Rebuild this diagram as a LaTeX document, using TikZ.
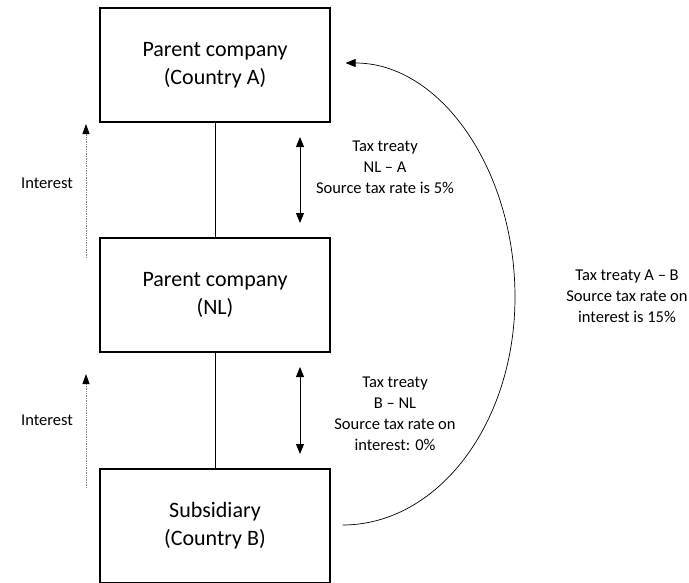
\documentclass[tikz,border=0pt]{standalone}
\usepackage{fontspec}
\setmainfont{Carlito}
\usetikzlibrary{arrows.meta}
\begin{document}
\begin{tikzpicture}[x=1pt,y=-1pt,
  entity/.style={draw=black,line width=1.2pt,minimum width=230pt,minimum height=114pt,
    align=center,inner sep=0pt,font=\fontsize{22}{28}\selectfont},
  note/.style={align=center,inner sep=0pt,font=\fontsize{16.5}{21}\selectfont},
  link/.style={line width=0.8pt},
  treaty/.style={line width=0.9pt,{Triangle[length=10pt,width=8pt]}-{Triangle[length=10pt,width=8pt]}},
  flow/.style={line width=0.9pt,gray,dash pattern=on 1.4pt off 1pt,
    -{Triangle[length=10pt,width=7pt,color=black]}},
  bypass/.style={line width=0.7pt,-{Triangle[length=10pt,width=8pt]}}]
\useasboundingbox (0,0) rectangle (689,582);

% entities
\node[entity] (pa)  at (215,65)  {Parent company\\(Country A)};
\node[entity] (nl)  at (215,295) {Parent company\\(NL)};
\node[entity] (sub) at (215,526) {Subsidiary\\(Country B)};

% ownership links
\draw[link] (pa.south) -- (nl.north);
\draw[link] (nl.south) -- (sub.north);

% treaty arrows
\coordinate (t1a) at (300,137);
\coordinate (t1b) at (300,223);
\coordinate (t2a) at (300,367);
\coordinate (t2b) at (300,454);
\draw[treaty] (t1a) -- (t1b);
\draw[treaty] (t2a) -- (t2b);

\node[note] (nla) at (385,167) {Tax treaty\\NL – A\\Source tax rate is 5\%};
\node[note] (bnl) at (395,414) {Tax treaty\\B – NL\\Source tax rate on\\interest: 0\%};

% interest flows
\coordinate (i1s) at (86,258);
\coordinate (i1e) at (86,124);
\coordinate (i2s) at (86,488);
\coordinate (i2e) at (86,374);
\draw[flow] (i1s) -- (i1e);
\draw[flow] (i2s) -- (i2e);
\node[note] (int1) at (47,183) {Interest};
\node[note] (int2) at (47,420) {Interest};

% direct treaty A - B
\coordinate (arcmid) at (515,297);
\draw[bypass] ([xshift=12pt,yshift=1pt]sub.east) .. controls +(95,0) and +(0,127) .. (arcmid)
  .. controls +(0,-127) and +(95,0) .. ([xshift=15pt,yshift=2pt]pa.east);
\node[note] (ab) at (627,296) {Tax treaty A – B\\Source tax rate on\\interest is 15\%};
\end{tikzpicture}
\end{document}
